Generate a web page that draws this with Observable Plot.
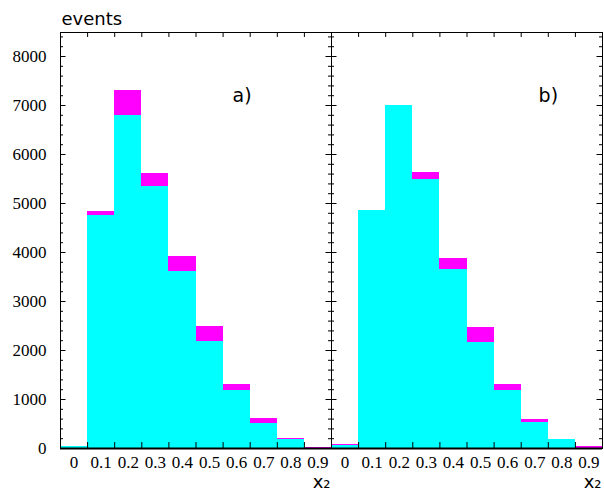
<!DOCTYPE html>
<html>
<head>
<meta charset="utf-8">
<script src="https://cdn.jsdelivr.net/npm/d3@7"></script>
<script src="https://cdn.jsdelivr.net/npm/@observablehq/plot@0.6"></script>
<style>
  html, body { margin: 0; padding: 0; background: white; }
</style>
</head>
<body>
<div id="chart"></div>
<script>
// Bin centers (x₂) and tick labels
const centers = [0, 0.1, 0.2, 0.3, 0.4, 0.5, 0.6, 0.7, 0.8, 0.9];
const tickLabels = ["0", "0.1", "0.2", "0.3", "0.4", "0.5", "0.6", "0.7", "0.8", "0.9"];
const binEdges = [0.05, 0.15, 0.25, 0.35, 0.45, 0.55, 0.65, 0.75, 0.85];
const yLabelTicks = [0, 1000, 2000, 3000, 4000, 5000, 6000, 7000, 8000];
const yMinorTicks = [200, 400, 600, 800, 1200, 1400, 1600, 1800, 2200, 2400, 2600, 2800, 3200, 3400, 3600, 3800,
  4200, 4400, 4600, 4800, 5200, 5400, 5600, 5800, 6200, 6400, 6600, 6800, 7200, 7400, 7600, 7800, 8200, 8400];

// Panel a) totals (magenta) and cyan part
const aTotal = [50, 4840, 7310, 5605, 3915, 2490, 1300, 620, 205, 25];
const aCyan  = [45, 4755, 6800, 5345, 3610, 2185, 1185, 505, 175, 10];
// Panel b)
const bTotal = [75, 4860, 7000, 5635, 3870, 2470, 1305, 590, 180, 40];
const bCyan  = [55, 4860, 7000, 5485, 3655, 2155, 1190, 535, 175, 10];

const panels = ["a", "b"];
const panelLabels = ["a)", "b)"];
const panelLabelX = [0.62, 0.75];
const panelLabelY = [7200, 7200];

const rows = [];
panels.forEach((p, k) => {
  const tot = k === 0 ? aTotal : bTotal;
  const cy = k === 0 ? aCyan : bCyan;
  centers.forEach((c, i) => rows.push({panel: p, x1: c - 0.05, x2: c + 0.05, total: tot[i], cyan: cy[i]}));
});
const labelRows = panels.map((p, k) => ({panel: p, text: panelLabels[k], x: panelLabelX[k], y: panelLabelY[k]}));

const W = 604, H = 493, mL = 59, mR = 2, mT = 32, mB = 45;
const fw = (W - mL - mR) / 2;   // facet width
const ph = H - mT - mB;         // plot height

const chart = Plot.plot({
  width: W,
  height: H,
  marginLeft: mL,
  marginRight: mR,
  marginTop: mT,
  marginBottom: mB,
  style: {fontFamily: "Liberation Serif", fontSize: "17px", background: "white", color: "black"},
  fx: {domain: panels, padding: 0, axis: null, label: null},
  x: {domain: [-0.05, 0.95], label: null},
  y: {domain: [0, 8490], label: null},
  marks: [
    Plot.rectY(rows, {fx: "panel", x1: "x1", x2: "x2", y1: 0, y2: "total", fill: "#ff00ff", shapeRendering: "crispEdges"}),
    Plot.rectY(rows, {fx: "panel", x1: "x1", x2: "x2", y1: 0, y2: "cyan", fill: "#00ffff", shapeRendering: "crispEdges"}),
    Plot.frame({stroke: "black", strokeWidth: 1}),
    Plot.ruleY([0], {stroke: "black", strokeWidth: 2}),
    // y ticks (inward), left and right edges of each panel
    Plot.ruleY(yLabelTicks, {insetRight: fw - 6, stroke: "black"}),
    Plot.ruleY(yMinorTicks, {insetRight: fw - 3.5, stroke: "black"}),
    Plot.ruleY(yLabelTicks, {insetLeft: fw - 6, stroke: "black"}),
    Plot.ruleY(yMinorTicks, {insetLeft: fw - 3.5, stroke: "black"}),
    // x ticks at bin edges, bottom and top
    Plot.ruleX(binEdges, {insetTop: ph - 6, stroke: "black"}),
    Plot.ruleX(binEdges, {insetBottom: ph - 5, stroke: "black"}),
    Plot.axisY({anchor: "left", ticks: yLabelTicks, tickSize: 0, tickPadding: 14, tickFormat: d => String(d), label: null, fontSize: 17}),
    Plot.axisX({anchor: "bottom", ticks: centers, tickSize: 0, tickPadding: 7, tickFormat: (d, i) => tickLabels[i], label: null, fontSize: 17}),
    Plot.text(labelRows, {fx: "panel", x: "x", y: "y", text: "text", fontFamily: "DejaVu Sans", fontSize: 19, textAnchor: "middle", lineAnchor: "middle"}),
    Plot.text(["x₂"], {frameAnchor: "bottom-right", textAnchor: "end", lineAnchor: "middle", dx: -1, dy: 34, fontFamily: "DejaVu Sans", fontSize: 18}),
    Plot.text([{panel: "a", t: "events"}], {fx: "panel", text: "t", frameAnchor: "top-left", textAnchor: "start", lineAnchor: "bottom", dx: 1, dy: -8, fontFamily: "DejaVu Sans", fontSize: 18})
  ]
});
document.getElementById("chart").appendChild(chart);
</script>
</body>
</html>
